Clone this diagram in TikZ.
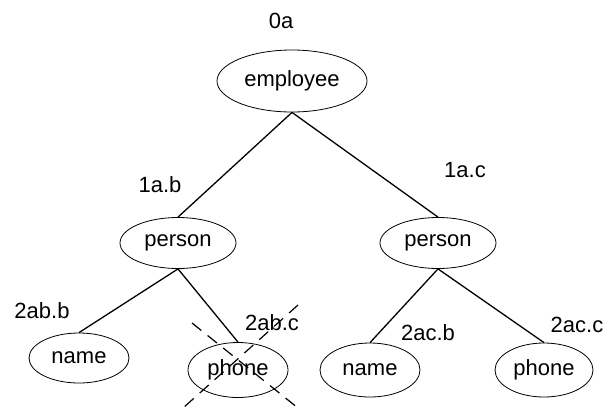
\documentclass[tikz,border=0pt]{standalone}
\usepackage{fontspec}
\setmainfont{Liberation Sans}
\usetikzlibrary{shapes.geometric}

\begin{document}
\begin{tikzpicture}[x=1pt,y=-1pt,font=\fontsize{22}{26}\selectfont]
        \useasboundingbox (0,0) rectangle (615,413);

        \begin{scope}[every node/.style={ellipse,draw,line width=0.8pt,inner sep=0pt}]
          \node[minimum width=150pt,minimum height=62pt] (1) at (292,81)  {employee};
          \node[minimum width=116pt,minimum height=51pt] (2) at (178,243) {person};
          \node[minimum width=116pt,minimum height=51pt] (3) at (438,243) {person};
          \node[minimum width=100pt,minimum height=50pt] (4) at (79,358)  {name};
          \node[minimum width=100pt,minimum height=55pt] (5) at (238,370) {phone};
          \node[minimum width=100pt,minimum height=54pt] (6) at (370,370) {name};
          \node[minimum width=98pt,minimum height=54pt]  (7) at (544,370) {phone};
        \end{scope}

        % path labels
        \begin{scope}[every node/.style={inner sep=0pt}]
          \node (l0)  at (281,21)  {0a};
          \node (l1)  at (160,185) {1a.b};
          \node (l2)  at (465,170) {1a.c};
          \node (l3)  at (42,311)  {2ab.b};
          \node (l4)  at (272,323) {2ab.c};
          \node (l5)  at (428,333) {2ac.b};
          \node (l6)  at (577,325) {2ac.c};
        \end{scope}

        \begin{scope}[every edge/.style={draw,line width=1.3pt}]
          \path (1.south) edge (2.north);
          \path (1.south) edge (3.north);
          \path (2.south) edge (4.north);
          \path (2.south) edge (5.north);
          \path (3.south) edge (6.north);
          \path (3.south) edge (7.north);
        \end{scope}

        % crossed out phone
        \coordinate (c1) at (192,323);
        \coordinate (c2) at (298,408);
        \coordinate (c3) at (298,305);
        \coordinate (c4) at (183,408);
        \draw[line width=1.2pt,dash pattern=on 12pt off 8pt] (c1) -- (c2);
        \draw[line width=1.2pt,dash pattern=on 12pt off 8pt] (c3) -- (c4);

      \end{tikzpicture}
\end{document}
